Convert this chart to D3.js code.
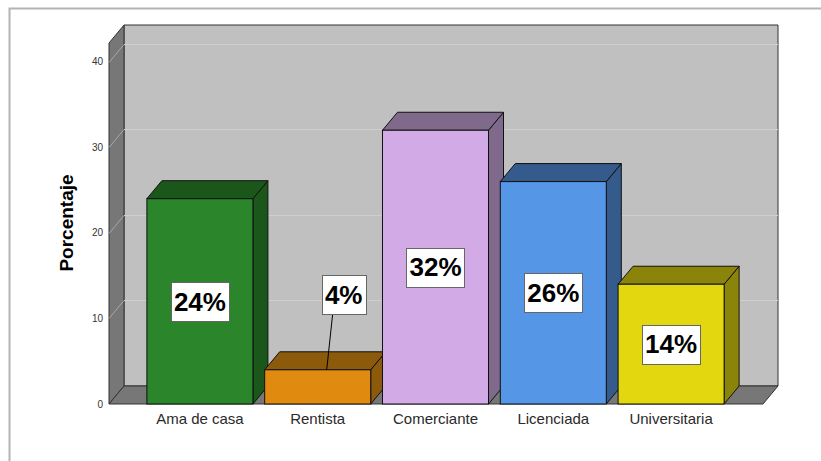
<!DOCTYPE html>
<html>
<head>
<meta charset="utf-8">
<script src="https://cdn.jsdelivr.net/npm/d3@7"></script>
<style>
  html, body { margin: 0; padding: 0; background: #fff; }
  svg { display: block; font-family: "Liberation Sans", Arial, sans-serif; }
</style>
</head>
<body>
<div id="chart"></div>
<script>
// ---- Data ----
var categories = ['Ama de casa', 'Rentista', 'Comerciante', 'Licenciada', 'Universitaria'];
var values = [24, 4, 32, 26, 14];
var yTicks = [0, 10, 20, 30, 40];

// Face colors per bar: front, side/top
var FRONT_COLORS = ['#2a852b', '#e08a10', '#d2aae6', '#5596e6', '#e3d70f'];
var SIDE_COLORS = ['#1b571b', '#8c5a0b', '#7f6a8c', '#345b8c', '#8b840a'];

var W = 821, H = 461;
var DX = 15, DY = -18;          // depth offset of the 3D box

var svg = d3.select('#chart').append('svg')
  .attr('width', W)
  .attr('height', H);

// Scales (front plane)
var y = d3.scaleLinear().domain([0, 42.2]).range([404, 43]);
var x = d3.scaleBand()
  .domain(categories)
  .range([141, 730])
  .paddingInner(0.1)
  .paddingOuter(0.05);

var floorLeft = 109, floorRight = 763;

// Outer frame (only top and left visible)
svg.append('path')
  .attr('d', 'M9.5,' + H + 'V8.5H' + W)
  .attr('fill', 'none')
  .attr('stroke', '#b4b4b4')
  .attr('stroke-width', 2);

function poly(pts) {
  return 'M' + pts.map(function (p) { return p[0] + ',' + p[1]; }).join('L') + 'Z';
}

var y0 = y(0), yTop = y(42.2);

// ---- Walls ----
// Back wall
svg.append('path')
  .attr('d', poly([[floorLeft + DX, yTop + DY], [floorRight + DX, yTop + DY],
                   [floorRight + DX, y0 + DY], [floorLeft + DX, y0 + DY]]))
  .attr('fill', '#c0c0c0')
  .attr('stroke', '#333')
  .attr('stroke-width', 1);

// Left wall
svg.append('path')
  .attr('d', poly([[floorLeft, y0], [floorLeft, yTop], [floorLeft + DX, yTop + DY], [floorLeft + DX, y0 + DY]]))
  .attr('fill', '#777')
  .attr('stroke', '#333')
  .attr('stroke-width', 1);

// Floor
svg.append('path')
  .attr('d', poly([[floorLeft, y0], [floorLeft + DX, y0 + DY], [floorRight + DX, y0 + DY], [floorRight, y0]]))
  .attr('fill', '#777')
  .attr('stroke', '#333')
  .attr('stroke-width', 1);

// ---- Gridlines ----
var grid = svg.append('g').attr('class', 'grid');
yTicks.filter(function (t) { return t > 0; }).forEach(function (t) {
  var yy = Math.round(y(t)) + 0.5;
  grid.append('line')
    .attr('x1', floorLeft).attr('y1', yy)
    .attr('x2', floorLeft + DX).attr('y2', yy + DY)
    .attr('stroke', '#a8a8a8');
  grid.append('line')
    .attr('x1', floorLeft + DX).attr('y1', yy + DY)
    .attr('x2', floorRight + DX).attr('y2', yy + DY)
    .attr('stroke', '#cfcfcf');
});

// Y tick labels
svg.append('g').selectAll('text')
  .data(yTicks)
  .enter().append('text')
  .attr('x', 103)
  .attr('y', function (d) { return y(d); })
  .attr('dy', '0.35em')
  .attr('text-anchor', 'end')
  .attr('font-size', 10)
  .attr('fill', '#333')
  .text(function (d) { return d; });

// Y axis title
svg.append('text')
  .attr('transform', 'translate(73,223) rotate(-90)')
  .attr('text-anchor', 'middle')
  .attr('font-size', 19)
  .attr('font-weight', 'bold')
  .attr('fill', '#000')
  .text('Porcentaje');

// ---- Bars ----
var bars = svg.append('g').selectAll('g.bar')
  .data(categories)
  .enter().append('g')
  .attr('class', 'bar');

bars.each(function (c, i) {
  var gb = d3.select(this);
  var x0 = x(c), x1 = x(c) + x.bandwidth();
  var yt = y(values[i]);
  // right side
  gb.append('path')
    .attr('d', poly([[x1, y0], [x1, yt], [x1 + DX, yt + DY], [x1 + DX, y0 + DY]]))
    .attr('fill', SIDE_COLORS[i])
    .attr('stroke', '#111')
    .attr('stroke-width', 1);
  // top
  gb.append('path')
    .attr('d', poly([[x0, yt], [x0 + DX, yt + DY], [x1 + DX, yt + DY], [x1, yt]]))
    .attr('fill', SIDE_COLORS[i])
    .attr('stroke', '#111')
    .attr('stroke-width', 1);
  // front
  gb.append('rect')
    .attr('x', x0).attr('y', yt)
    .attr('width', x.bandwidth())
    .attr('height', y0 - yt)
    .attr('fill', FRONT_COLORS[i])
    .attr('stroke', '#111')
    .attr('stroke-width', 1);
});

// Category labels
svg.append('g').selectAll('text')
  .data(categories)
  .enter().append('text')
  .attr('x', function (d) { return x(d) + x.bandwidth() / 2; })
  .attr('y', 424)
  .attr('text-anchor', 'middle')
  .attr('font-size', 15)
  .attr('fill', '#2a2a2a')
  .text(function (d) { return d; });

// ---- Value labels ----
var labels = svg.append('g');
categories.forEach(function (c, i) {
  var cx = x(c) + x.bandwidth() / 2;
  var yt = y(values[i]);
  var cy = (y0 + yt) / 2;
  var small = (y0 - yt) < 45;
  if (small) {
    // move the label above the bar and connect it with a leader line
    var lx = cx + 26, ly = yt - 75;
    labels.append('line')
      .attr('x1', lx - 11).attr('y1', ly + 19)
      .attr('x2', cx + 9).attr('y2', yt)
      .attr('stroke', '#000');
    cx = lx; cy = ly;
  }
  var t = labels.append('text')
    .attr('x', cx)
    .attr('y', cy)
    .attr('dy', '0.36em')
    .attr('text-anchor', 'middle')
    .attr('font-size', 26)
    .attr('font-weight', 'bold')
    .attr('fill', '#000')
    .text(values[i] + '%');
  var bb = t.node().getBBox();
  labels.insert('rect', function () { return t.node(); })
    .attr('x', Math.round(bb.x - 3) + 0.5)
    .attr('y', Math.round(cy - 19.5) + 0.5)
    .attr('width', Math.round(bb.width + 6))
    .attr('height', 39)
    .attr('fill', '#fff')
    .attr('stroke', '#666');
});
</script>
</body>
</html>
